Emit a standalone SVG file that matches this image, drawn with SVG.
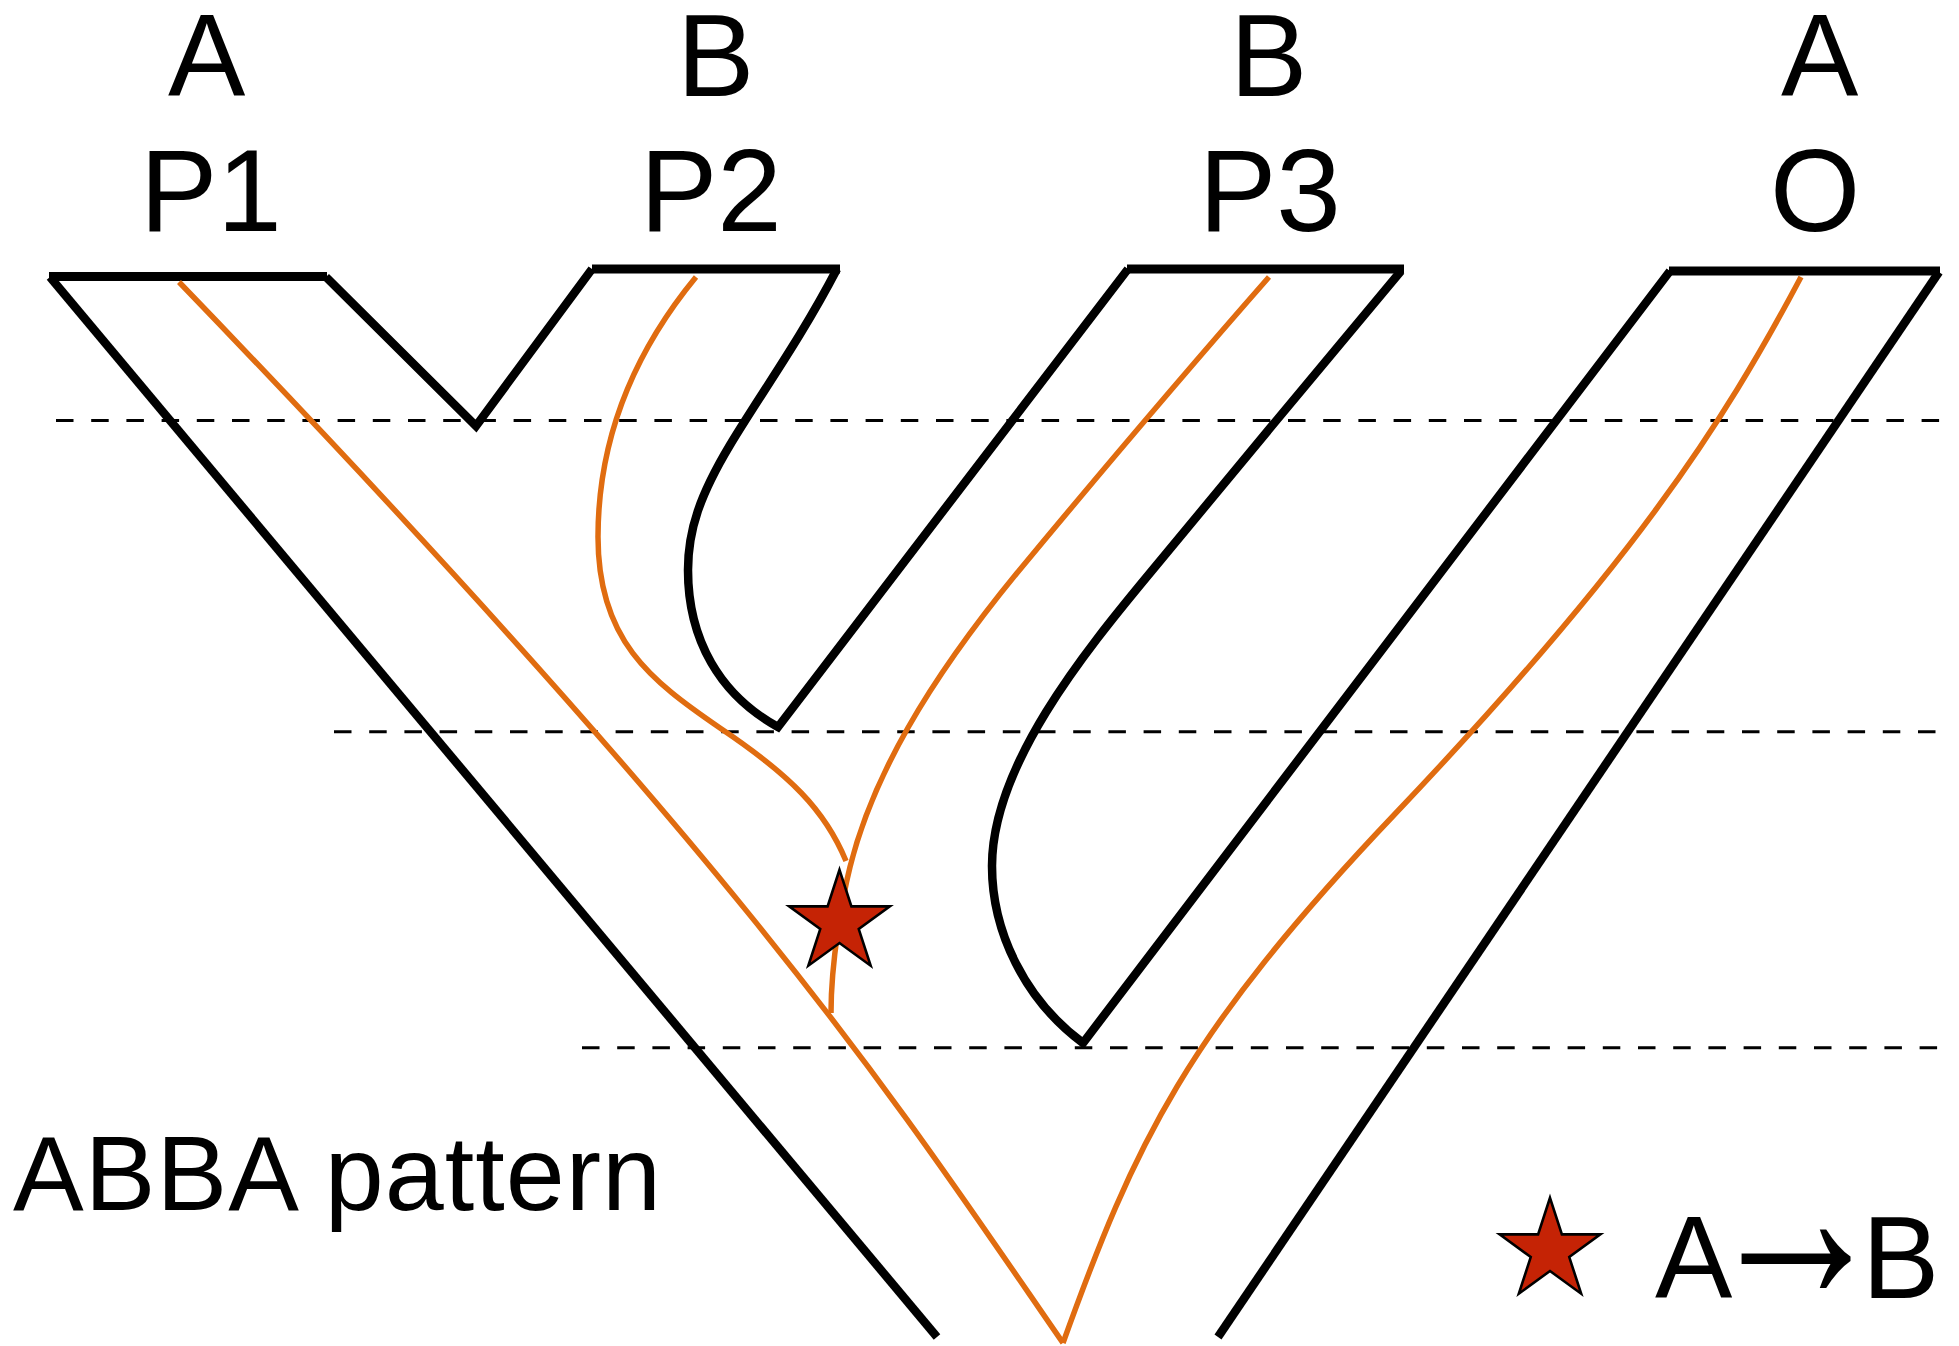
<svg xmlns="http://www.w3.org/2000/svg" width="1959" height="1346" viewBox="0 0 1959 1346">
  <defs>
    <!-- five-pointed star, outer radius 53, centred on the origin -->
    <polygon id="star" points="0,-53 11.9,-16.38 50.41,-16.38 19.26,6.26 31.15,42.88 0,20.25 -31.15,42.88 -19.26,6.26 -50.41,-16.38 -11.9,-16.38"/>
  </defs>
  <style>
    .lbl { font-family: "Liberation Sans", Arial, Helvetica, sans-serif; font-size: 116px; fill: #000; }
    .edge { fill: none; stroke: #000; stroke-width: 8.5; stroke-linejoin: miter; stroke-miterlimit: 10; }
    .bar { fill: none; stroke: #000; stroke-width: 9; }
    .time { fill: none; stroke: #000; stroke-width: 3; stroke-dasharray: 17.5 17.7; }
    .gene { fill: none; stroke: #E06C10; stroke-width: 5.5; }
    .mut { fill: #C52305; stroke: #000; stroke-width: 2.6; stroke-linejoin: miter; }
  </style>

  <rect width="1959" height="1346" fill="#fff"/>

  <!-- time slices -->
  <g id="time-slices">
    <line class="time" x1="56" y1="420.5" x2="1940" y2="420.5"/>
    <line class="time" x1="334" y1="731.8" x2="1938" y2="731.8"/>
    <line class="time" x1="582" y1="1047.8" x2="1938" y2="1047.8"/>
  </g>

  <!-- species tree outline -->
  <g id="species-tree">
    <g id="tube-P1">
      <path class="bar" d="M49,276.5 L327,276.5"/>
      <path class="edge" d="M50,277 L937,1337"/>
    </g>
    <g id="tube-P2">
      <path class="bar" d="M592,269 L840,269"/>
      <path class="edge" d="M326,277 L476,426 L592,269"/>
    </g>
    <g id="tube-P3">
      <path class="bar" d="M1127,269 L1404,269"/>
      <path class="edge" d="M837,269 C800,340 760,395 730,445 C700,495 688,530 688,570 C688,640 720,695 778,727 L1128,269"/>
    </g>
    <g id="tube-O">
      <path class="bar" d="M1669,271 L1940,271"/>
      <path class="edge" d="M1401,271 C1350,331 1200,513 1150,573 C1083.6,653 992,766 992,866 C992,932 1025,1000 1083,1043 L1670,271"/>
      <path class="edge" d="M1939,272 L1218,1337"/>
    </g>
  </g>

  <!-- gene lineages -->
  <g id="gene-tree">
    <path class="gene" d="M179,282 C756.8,882 890.5,1093 1063,1343"/>
    <path class="gene" d="M696,277 C640,345 598,430 598,537 C598,640 650,680 720,728 C790,775 825,810 846,861"/>
    <path class="gene" d="M1269,277 C1190,367 1090,485 1017,573 C926.8,683 872.5,777 850,867 C843,895 831,960 831,1013"/>
    <path class="gene" d="M1801,277 C1721.5,427 1631.5,565 1394,815 C1185,1035 1135,1143 1063,1343"/>
  </g>

  <!-- mutation event -->
  <g id="mutation">
    <use href="#star" x="839.5" y="922.8" class="mut"/>
  </g>

  <!-- allele and population labels -->
  <g id="labels">
    <text class="lbl" x="168" y="96">A</text>
    <text class="lbl" x="677" y="96">B</text>
    <text class="lbl" x="1230" y="96">B</text>
    <text class="lbl" x="1781" y="96">A</text>
    <text class="lbl" x="140" y="231">P1</text>
    <text class="lbl" x="640" y="231">P2</text>
    <text class="lbl" x="1199" y="231">P3</text>
    <text class="lbl" x="1770" y="231">O</text>
    <text class="lbl" x="13" y="1210" style="font-size:106px" textLength="648" lengthAdjust="spacing">ABBA pattern</text>
  </g>

  <!-- legend -->
  <g id="legend">
    <use href="#star" x="1550" y="1250.8" class="mut"/>
    <text class="lbl" y="1298"><tspan x="1655" y="1298">A</tspan><tspan x="1704" y="1300" style="font-size:250px" textLength="184" lengthAdjust="spacingAndGlyphs">→</tspan><tspan x="1862" y="1298">B</tspan></text>
  </g>
</svg>
